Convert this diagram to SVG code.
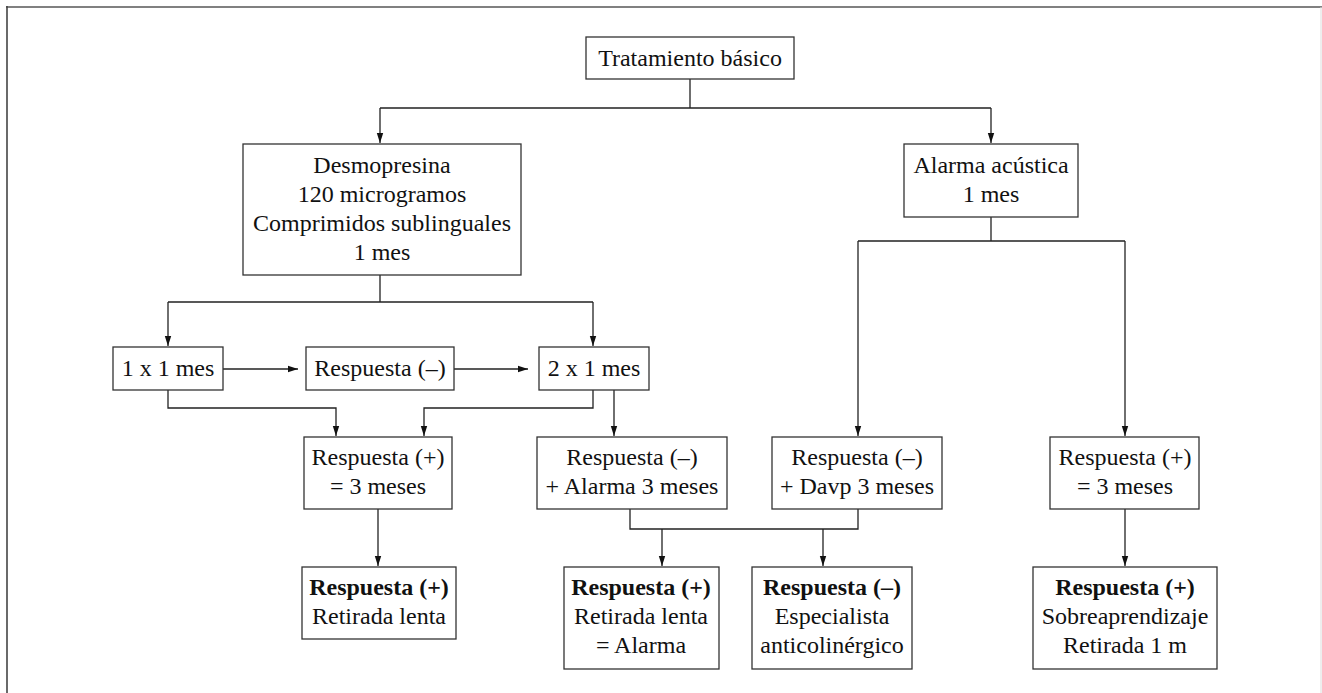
<svg xmlns="http://www.w3.org/2000/svg" width="1322" height="693" viewBox="0 0 1322 693">
<defs>
<style>
.box{fill:#fff;stroke:#333;stroke-width:1.3}
.t{font-family:"Liberation Serif","Times New Roman",serif;font-size:24px;fill:#111;text-anchor:middle}
.b{font-weight:bold}
.c{fill:none;stroke:#222;stroke-width:1.3}
</style>
<marker id="ah" viewBox="0 0 10 10" refX="10" refY="5" markerWidth="10" markerHeight="10" markerUnits="userSpaceOnUse" orient="auto">
<path d="M0,1.8 L10,5 L0,8.2 Z" fill="#111"/>
</marker>
</defs>
<rect width="1322" height="693" fill="#fff"/>
<g id="frame">
<line x1="6" y1="7" x2="1322" y2="7" stroke="#808080" stroke-width="2"/>
<line x1="7" y1="6" x2="7" y2="693" stroke="#444" stroke-width="1.6"/>
<line x1="1321" y1="7" x2="1321" y2="693" stroke="#ddd" stroke-width="1"/>
</g>
<g id="connectors">
<path class="c" d="M690,79 V108 M380,108 H991"/>
<path class="c" marker-end="url(#ah)" d="M380,108 V143"/>
<path class="c" marker-end="url(#ah)" d="M991,108 V143"/>
<path class="c" d="M380,275 V302 M168,302 H593"/>
<path class="c" marker-end="url(#ah)" d="M168,302 V346"/>
<path class="c" marker-end="url(#ah)" d="M593,302 V346"/>
<path class="c" marker-end="url(#ah)" d="M223,369 H298"/>
<path class="c" marker-end="url(#ah)" d="M454,369 H528"/>
<path class="c" marker-end="url(#ah)" d="M168,390 V408 H336 V436"/>
<path class="c" marker-end="url(#ah)" d="M593,390 V408 H424 V436"/>
<path class="c" marker-end="url(#ah)" d="M614,390 V436"/>
<path class="c" d="M991,217 V241 M858,241 H1125"/>
<path class="c" marker-end="url(#ah)" d="M858,241 V436"/>
<path class="c" marker-end="url(#ah)" d="M1125,241 V436"/>
<path class="c" marker-end="url(#ah)" d="M378,509 V566"/>
<path class="c" d="M630,509 V529 H858 V509"/>
<path class="c" marker-end="url(#ah)" d="M662,529 V566"/>
<path class="c" marker-end="url(#ah)" d="M823,529 V566"/>
<path class="c" marker-end="url(#ah)" d="M1125,509 V566"/>
</g>
<g id="n-tratamiento">
<rect class="box" x="586" y="37" width="208" height="42"/>
<text class="t" x="690" y="66">Tratamiento básico</text>
</g>
<g id="n-desmopresina">
<rect class="box" x="243" y="144" width="278" height="131"/>
<text class="t" x="382" y="173">Desmopresina</text>
<text class="t" x="382" y="202">120 microgramos</text>
<text class="t" x="382" y="231">Comprimidos sublinguales</text>
<text class="t" x="382" y="260">1 mes</text>
</g>
<g id="n-alarma">
<rect class="box" x="904" y="144" width="174" height="73"/>
<text class="t" x="991" y="173">Alarma acústica</text>
<text class="t" x="991" y="202">1 mes</text>
</g>
<g id="n-1x1">
<rect class="box" x="113" y="347" width="110" height="43"/>
<text class="t" x="168" y="376">1 x 1 mes</text>
</g>
<g id="n-resp-neg">
<rect class="box" x="306" y="347" width="148" height="43"/>
<text class="t" x="380" y="376">Respuesta (–)</text>
</g>
<g id="n-2x1">
<rect class="box" x="539" y="347" width="110" height="43"/>
<text class="t" x="594" y="376">2 x 1 mes</text>
</g>
<g id="n-resp-pos-3">
<rect class="box" x="304" y="437" width="148" height="72"/>
<text class="t" x="378" y="465">Respuesta (+)</text>
<text class="t" x="378" y="494">= 3 meses</text>
</g>
<g id="n-resp-neg-alarma">
<rect class="box" x="537" y="437" width="190" height="72"/>
<text class="t" x="632" y="465">Respuesta (–)</text>
<text class="t" x="632" y="494">+ Alarma 3 meses</text>
</g>
<g id="n-resp-neg-davp">
<rect class="box" x="772" y="437" width="170" height="72"/>
<text class="t" x="857" y="465">Respuesta (–)</text>
<text class="t" x="857" y="494">+ Davp 3 meses</text>
</g>
<g id="n-resp-pos-3-right">
<rect class="box" x="1050" y="437" width="149" height="72"/>
<text class="t" x="1125" y="465">Respuesta (+)</text>
<text class="t" x="1125" y="494">= 3 meses</text>
</g>
<g id="n-final-1">
<rect class="box" x="302" y="567" width="154" height="72"/>
<text class="t b" x="379" y="595">Respuesta (+)</text>
<text class="t" x="379" y="624">Retirada lenta</text>
</g>
<g id="n-final-2">
<rect class="box" x="564" y="567" width="155" height="102"/>
<text class="t b" x="641" y="595">Respuesta (+)</text>
<text class="t" x="641" y="624">Retirada lenta</text>
<text class="t" x="641" y="653">= Alarma</text>
</g>
<g id="n-final-3">
<rect class="box" x="752" y="567" width="160" height="102"/>
<text class="t b" x="832" y="595">Respuesta (–)</text>
<text class="t" x="832" y="624">Especialista</text>
<text class="t" x="832" y="653">anticolinérgico</text>
</g>
<g id="n-final-4">
<rect class="box" x="1033" y="567" width="184" height="102"/>
<text class="t b" x="1125" y="595">Respuesta (+)</text>
<text class="t" x="1125" y="624">Sobreaprendizaje</text>
<text class="t" x="1125" y="653">Retirada 1 m</text>
</g>
</svg>
